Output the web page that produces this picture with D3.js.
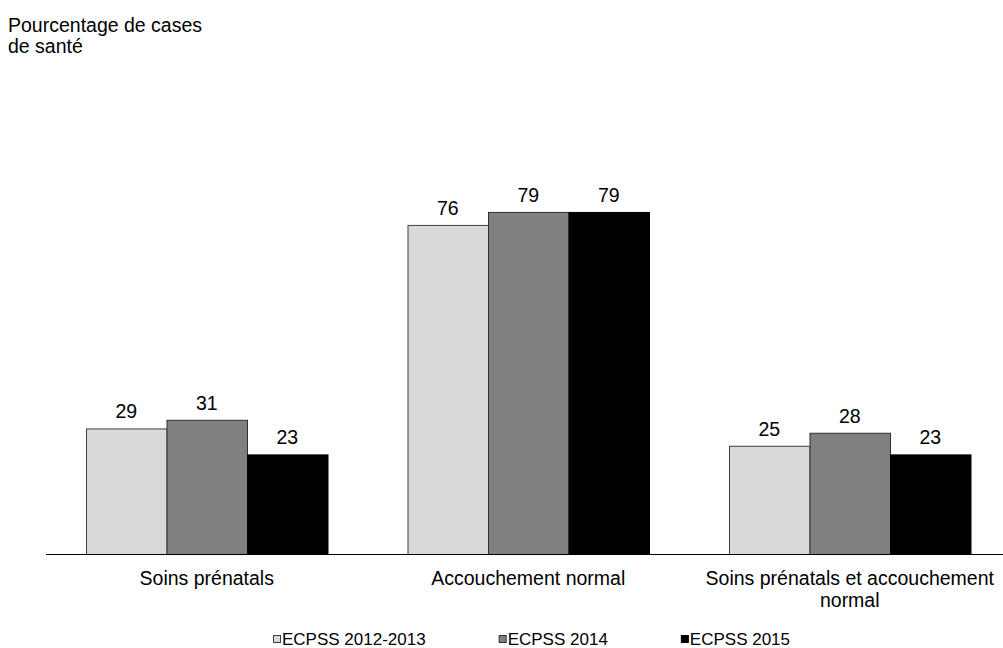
<!DOCTYPE html>
<html>
<head>
<meta charset="utf-8">
<script src="https://cdn.jsdelivr.net/npm/d3@7"></script>
<style>
  html, body { margin: 0; padding: 0; background: #fff; }
  svg { display: block; font-family: "Liberation Sans", Arial, sans-serif; }
</style>
</head>
<body>
<svg id="chart" width="1003" height="648"></svg>
<script>
const categories = ["Soins prénatals", "Accouchement normal", "Soins prénatals et accouchement normal"];
const categoryLines = [["Soins prénatals"], ["Accouchement normal"], ["Soins prénatals et accouchement", "normal"]];
const seriesNames = ["ECPSS 2012-2013", "ECPSS 2014", "ECPSS 2015"];
const values2012 = [29, 76, 25];
const values2014 = [31, 79, 28];
const values2015 = [23, 79, 23];
const seriesValues = [values2012, values2014, values2015];
const seriesColors = ["#d9d9d9", "#808080", "#000000"];
const seriesStrokes = ["#404040", "#303030", "#000000"];
const titleLines = ["Pourcentage de cases", "de santé"];

const svg = d3.select("#chart");
const baseY = 554;
const y = d3.scaleLinear().domain([0, 100]).range([baseY, baseY - 433]);
const x0 = d3.scaleBand().domain(categories).range([46, 1010.5]).padding(0);
const x1 = d3.scaleBand().domain(seriesNames).range([40, x0.bandwidth() - 40]).padding(0);

// title
const title = svg.append("text").attr("x", 8).attr("font-size", 19.5).attr("fill", "#000");
titleLines.forEach((t, i) => {
  title.append("tspan").attr("x", 8).attr("y", 31.5 + i * 21.5).text(t);
});

// bars
const groups = svg.selectAll("g.grp").data(categories).enter().append("g")
  .attr("class", "grp")
  .attr("transform", d => `translate(${x0(d)},0)`);

seriesNames.forEach((s, si) => {
  groups.append("rect")
    .attr("x", (d) => x1(s) + 0.5)
    .attr("width", x1.bandwidth())
    .attr("y", (d, ci) => y(seriesValues[si][ci]) + 0.5)
    .attr("height", (d, ci) => baseY - y(seriesValues[si][ci]))
    .attr("fill", seriesColors[si])
    .attr("stroke", seriesStrokes[si])
    .attr("stroke-width", 1);
  groups.append("text")
    .attr("x", () => x1(s) + x1.bandwidth() / 2)
    .attr("y", (d, ci) => y(seriesValues[si][ci]) - 10)
    .attr("text-anchor", "middle")
    .attr("font-size", 19.5)
    .attr("fill", "#000")
    .text((d, ci) => seriesValues[si][ci]);
});

// x axis line
svg.append("line")
  .attr("x1", 46).attr("x2", 1003)
  .attr("y1", baseY + 0.5).attr("y2", baseY + 0.5)
  .attr("stroke", "#000").attr("stroke-width", 1);

// category labels
categories.forEach((c, ci) => {
  const t = svg.append("text")
    .attr("text-anchor", "middle")
    .attr("font-size", 19.5)
    .attr("fill", "#000");
  categoryLines[ci].forEach((line, li) => {
    t.append("tspan")
      .attr("x", x0(c) + x0.bandwidth() / 2)
      .attr("y", 585 + li * 21.5)
      .text(line);
  });
});

// legend
let lx = 273;
seriesNames.forEach((s, si) => {
  svg.append("rect")
    .attr("x", lx + 0.5).attr("y", 635.5)
    .attr("width", 7).attr("height", 7)
    .attr("fill", seriesColors[si])
    .attr("stroke", seriesStrokes[si])
    .attr("stroke-width", 1);
  const t = svg.append("text")
    .attr("x", lx + 9).attr("y", 644.5)
    .attr("font-size", 17)
    .attr("fill", "#000")
    .text(s);
  const w = t.node().getComputedTextLength();
  lx = lx + 9 + w + 73;
});
</script>
</body>
</html>
